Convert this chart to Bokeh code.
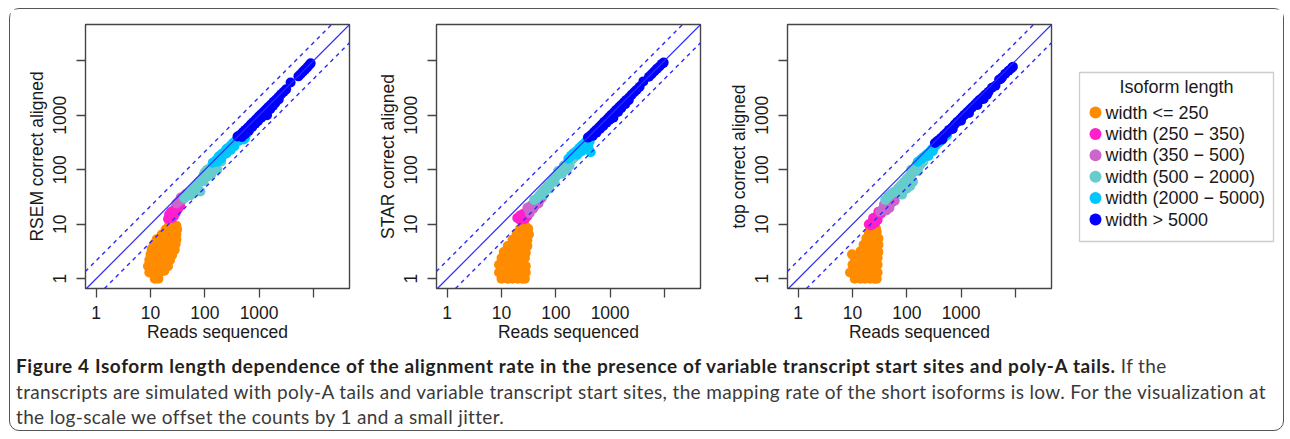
from bokeh.plotting import figure
from bokeh.models import (Range1d, FixedTicker, CustomJSTickFormatter, Slope, Div,
                          ColumnDataSource, BoxAnnotation)
from bokeh.layouts import row, column
from bokeh.embed import file_html
from bokeh.resources import INLINE
from bokeh.core.properties import value

# ---------------- data ----------------
CATEGORIES = ["width <= 250", "width (250 \u2212 350)", "width (350 \u2212 500)",
              "width (500 \u2212 2000)", "width (2000 \u2212 5000)", "width > 5000"]
COLORS = ["#FF8C00", "#FF1FCB", "#CC66CC", "#66CCCC", "#00C8FF", "#0000FF"]
LEGEND_TITLE = "Isoform length"
X_LABEL = "Reads sequenced"
Y_LABELS = ["RSEM correct aligned", "STAR correct aligned", "top correct aligned"]
TICKS = [1, 10, 100, 1000, 10000]
FOLD = 2.15  # dashed reference lines: y = x*FOLD and y = x/FOLD

# (reads sequenced, correct aligned) per isoform-length class
rsem_le250 = [(12, 1.0), (14, 1.0),
              (9.5, 1.3), (12, 1.3), (15, 1.3), (18, 1.4),
              (9, 1.7), (11, 1.8), (14, 1.7), (18, 1.8), (21, 1.7),
              (9.5, 2.2), (12, 2.3), (15, 2.2), (19, 2.3), (23, 2.2),
              (10, 2.8), (13, 2.9), (17, 2.8), (21, 2.9), (25, 2.7),
              (10.5, 3.5), (14, 3.6), (18, 3.4), (23, 3.5), (28, 3.4),
              (11.5, 4.3), (15, 4.4), (20, 4.2), (25, 4.4), (29, 4.3),
              (13, 5.3), (17, 5.4), (22, 5.2), (27, 5.4), (30, 5.2),
              (16, 6.5), (20, 6.6), (25, 6.4), (30, 6.5),
              (19, 8), (23, 8.1), (28, 7.9), (31, 8),
              (22, 9.5), (26, 9.8), (30, 9.4)]
rsem_250_350 = [(21, 12.5), (23, 13.5), (25, 13), (27, 14), (22, 15), (26, 16), (29, 16),
                (31, 18), (28, 19), (33, 20), (35, 22), (30, 21), (24, 17)]
rsem_350_500 = [(30, 24), (33, 26), (34, 27), (38, 28), (36, 31), (40, 30), (42, 33),
                (45, 36), (47, 34), (50, 38)]
rsem_500_2000 = [(42, 30), (48, 33), (52, 38), (56, 40), (60, 45), (65, 48), (70, 52), (75, 58),
                 (80, 62), (85, 60), (90, 70), (95, 80), (100, 90), (105, 75), (110, 100),
                 (120, 105), (130, 110), (140, 125), (150, 130), (160, 145), (175, 150),
                 (190, 170), (210, 180), (230, 200), (250, 220), (270, 250), (83, 40),
                 (120, 85), (170, 100), (140, 95), (60, 38), (200, 140), (70, 44), (95, 62),
                 (110, 75), (150, 105), (55, 34), (130, 80)]
rsem_2000_5000 = [(140, 135), (160, 150), (180, 175), (200, 190),
                  (220, 205), (250, 240), (280, 260), (300, 280), (330, 310), (360, 330),
                  (400, 370), (450, 400), (500, 430), (550, 380), (520, 360), (300, 230),
                  (250, 200), (600, 470), (420, 340), (350, 270), (200, 160), (170, 140)]
rsem_gt5000 = [(400, 410), (450, 440), (500, 490), (560, 540), (620, 600), (700, 680), (780, 750),
               (870, 840), (970, 940), (1080, 1040), (1200, 1150), (1330, 1280), (1480, 1420),
               (1650, 1580), (1850, 1770), (2050, 1960), (2300, 2200), (2550, 2450),
               (2850, 2720), (3150, 3000),
               (480, 400), (550, 450), (650, 520), (750, 610), (850, 700), (950, 780),
               (1100, 900), (1250, 1020), (1400, 1000), (1600, 1300), (1800, 1480),
               (2000, 1700), (2300, 1950),
               (3800, 4000), (5300, 5200), (5800, 5700), (6400, 6300), (7000, 6900),
               (7700, 7600), (8300, 8300), (8900, 9000)]

star_le250 = [(10, 1.0), (13, 1.0), (16, 1.0), (20, 1.0), (24, 1.0), (27, 1.0),
              (9, 1.3), (12, 1.3), (15, 1.3), (19, 1.3), (23, 1.3), (28, 1.3),
              (9, 1.8), (12, 1.8), (16, 1.8), (20, 1.8), (25, 1.8), (28, 1.7),
              (10, 2.4), (13, 2.5), (17, 2.4), (22, 2.4), (27, 2.4),
              (11, 3.1), (14, 3.2), (18, 3.1), (23, 3.2), (28, 3.0),
              (13, 4.0), (17, 4.1), (21, 4.0), (26, 4.0), (30, 4.0),
              (16, 5.2), (20, 5.2), (25, 5.3), (30, 5.1),
              (19, 6.6), (23, 6.6), (28, 6.7), (32, 6.5),
              (22, 8.3), (26, 8.5), (31, 8.3),
              (27, 9.6)]
star_250_350 = [(19.5, 13), (22, 12), (24, 13), (27, 12.5), (30, 14), (25, 15.5), (29, 17),
                (33, 18), (36, 20), (40, 21), (31, 15.5), (22, 14.5)]
star_350_500 = [(30, 20), (33, 16), (35, 22), (38, 19), (40, 25), (42, 23), (45, 26), (50, 28),
                (55, 30), (48, 24)]
star_500_2000 = [(40, 28), (45, 30), (50, 34), (55, 38), (60, 42), (65, 45), (70, 50), (78, 55),
                 (85, 62), (92, 68), (100, 75), (110, 82), (120, 90), (130, 98), (140, 108),
                 (150, 115), (165, 125), (180, 140), (200, 155), (220, 170), (240, 185),
                 (260, 200), (75, 45), (95, 60), (130, 85), (160, 100), (60, 35), (180, 120),
                 (110, 95), (140, 120), (200, 175)]
star_2000_5000 = [(170, 160), (190, 180), (210, 200), (240, 220), (270, 250),
                  (300, 280), (330, 300), (360, 330), (400, 370), (440, 400), (470, 430),
                  (300, 220), (350, 250), (400, 260), (440, 210), (380, 300), (250, 190),
                  (420, 330)]
star_gt5000 = [(390, 390), (440, 430), (500, 490), (560, 545), (630, 610), (700, 680), (780, 760),
               (870, 840), (960, 930), (1060, 1030), (1180, 1140), (1300, 1260), (1450, 1400),
               (1600, 1550), (1800, 1730), (2000, 1920), (2250, 2150), (2500, 2400),
               (2800, 2680), (3100, 2960), (3500, 3350),
               (480, 420), (560, 480), (650, 560), (750, 640), (860, 730), (980, 830),
               (1150, 900), (1400, 1150), (1600, 1350), (1900, 1600), (2200, 1900),
               (4100, 4200), (5200, 5100), (5800, 5700), (6500, 6400), (7300, 7200),
               (8100, 7900), (9000, 8800), (9700, 9300)]

top_le250 = [(11, 1.0), (14, 1.0), (17, 1.0), (21, 1.0), (25, 1.0), (28, 1.0),
             (9, 1.3), (12, 1.3), (16, 1.3), (20, 1.3), (24, 1.3), (29, 1.3),
             (10, 1.8), (13, 1.8), (17, 1.8), (21, 1.8), (26, 1.8), (29, 1.8),
             (11, 2.4), (15, 2.4), (19, 2.4), (24, 2.4), (29, 2.4),
             (9.8, 2.8),
             (14, 3.2), (18, 3.2), (22, 3.2), (27, 3.2), (30, 3.1),
             (16, 4.2), (20, 4.2), (25, 4.3), (30, 4.2),
             (18, 5.5), (22, 5.5), (27, 5.6), (30, 5.5),
             (20, 7.2), (24, 7.3), (28, 7.2),
             (23, 8.6), (27, 8.4)]
top_250_350 = [(20, 10), (22, 9.5), (23, 11), (26, 10.5), (29, 12), (24, 13), (27, 11.5),
               (28, 14), (31, 15), (34, 16), (30, 17)]
top_350_500 = [(32, 17), (36, 19), (38, 23), (40, 21), (42, 18), (45, 22), (48, 20), (50, 24),
               (55, 26), (60, 27)]
top_500_2000 = [(40, 28), (45, 32), (50, 35), (55, 38), (60, 40), (68, 45), (75, 50), (82, 55),
                (90, 60), (100, 68), (110, 75), (120, 80), (130, 90), (140, 95), (150, 105),
                (165, 115), (180, 125), (200, 140), (82, 35), (100, 45), (115, 50), (130, 60),
                (70, 38), (160, 95), (120, 100), (150, 125)]
top_2000_5000 = [(160, 140), (180, 155), (200, 170), (230, 190), (260, 210),
                 (290, 240), (320, 260), (350, 290), (380, 310), (420, 340), (450, 360),
                 (500, 400), (550, 430), (250, 180), (300, 220)]
top_gt5000 = [(330, 310), (370, 340), (420, 380), (480, 430), (540, 480), (600, 540), (680, 600),
              (760, 680), (850, 760), (950, 840), (1050, 930), (1150, 1020), (1300, 1150),
              (1450, 1280), (1600, 1400), (1800, 1580), (2000, 1750), (2200, 1930),
              (2500, 2150), (2800, 2400), (3200, 2700), (3700, 3200),
              (450, 360), (700, 560), (1000, 800), (1400, 1100), (2000, 1550), (2600, 2000),
              (3000, 2400), (4300, 3500),
              (5000, 4500), (5400, 4700), (5700, 5000), (6500, 5800), (7500, 6600),
              (8500, 7300), (9000, 7800)]

PANELS = [
    (Y_LABELS[0], [rsem_le250, rsem_250_350, rsem_350_500, rsem_500_2000, rsem_2000_5000, rsem_gt5000]),
    (Y_LABELS[1], [star_le250, star_250_350, star_350_500, star_500_2000, star_2000_5000, star_gt5000]),
    (Y_LABELS[2], [top_le250, top_250_350, top_350_500, top_500_2000, top_2000_5000, top_gt5000]),
]

CAPTION_BOLD = ("Figure 4 Isoform length dependence of the alignment rate in the presence of "
                "variable transcript start sites and poly-A tails.")
CAPTION_LINES = [" If the",
                 "transcripts are simulated with poly-A tails and variable transcript start sites, "
                 "the mapping rate of the short isoforms is low. For the visualization at",
                 "the log-scale we offset the counts by 1 and a small jitter."]

# ---------------- style ----------------
FONT = "Liberation Sans"
FS = "17.5px"
INK = "#1a1a1a"
BOX = "#444444"
LINE_BLUE = "#2b2bff"
X_LO, X_HI = 10 ** -0.197, 10 ** 4.665
Y_LO, Y_HI = 10 ** -0.180, 10 ** 4.668
MB_TOP, MB_BOTTOM = 15, 56
PANEL_H = 335


def make_panel(ylabel, series):
    p = figure(width=351, height=PANEL_H, x_axis_type="log", y_axis_type="log",
               x_range=Range1d(X_LO, X_HI), y_range=Range1d(Y_LO, Y_HI),
               output_backend="svg", toolbar_location=None,
               min_border_left=75, min_border_right=12, min_border_top=MB_TOP,
               min_border_bottom=MB_BOTTOM)
    p.grid.visible = False
    p.outline_line_color = BOX
    p.outline_line_width = 1.4
    for cat_pts, color in zip(series, COLORS):
        src = ColumnDataSource(dict(x=[a for a, b in cat_pts], y=[b for a, b in cat_pts]))
        p.scatter("x", "y", source=src, size=10, fill_color=color, line_color=None)
    p.add_layout(Slope(gradient=1, y_intercept=0, line_color=LINE_BLUE, line_width=1.2))
    for g in (FOLD, 1 / FOLD):
        p.add_layout(Slope(gradient=g, y_intercept=0, line_color=LINE_BLUE, line_width=1.4,
                           line_dash="4 4"))
    fmt = CustomJSTickFormatter(code="return tick >= 9999 ? '' : tick.toFixed(0);")
    for ax in (p.xaxis[0], p.yaxis[0]):
        ax.ticker = FixedTicker(ticks=TICKS, minor_ticks=[])
        ax.formatter = fmt
        ax.axis_line_color = None
        ax.major_tick_in = 0
        ax.major_tick_out = 9
        ax.major_tick_line_color = BOX
        ax.major_tick_line_width = 1.3
        ax.minor_tick_line_color = None
        ax.major_label_text_font = FONT
        ax.major_label_text_font_size = FS
        ax.major_label_text_color = INK
        ax.axis_label_text_font = FONT
        ax.axis_label_text_font_size = FS
        ax.axis_label_text_font_style = "normal"
        ax.axis_label_text_color = INK
    p.xaxis.axis_label = X_LABEL
    p.yaxis.axis_label = ylabel
    p.xaxis.major_label_standoff = 8
    p.xaxis.axis_label_standoff = 0
    p.yaxis.major_label_orientation = "vertical"
    p.yaxis.major_label_standoff = 10
    p.yaxis.axis_label_standoff = 4
    return p


panels = [make_panel(lbl, ser) for lbl, ser in PANELS]

# ---------------- legend panel (frame aligned with the plot frames) ----------------
LW = 220
FRAME_H = PANEL_H - MB_TOP - MB_BOTTOM
leg = figure(width=LW, height=PANEL_H, x_range=Range1d(0, LW), y_range=Range1d(FRAME_H, 0),
             output_backend="svg", toolbar_location=None, min_border_left=0, min_border_right=0,
             min_border_top=MB_TOP, min_border_bottom=MB_BOTTOM,
             x_axis_location=None, y_axis_location=None)
leg.grid.visible = False
leg.outline_line_color = None
box_l, box_r, box_t, box_b = 16, 210, 48, 217
leg.add_layout(BoxAnnotation(left=box_l, right=box_r, top=box_t, bottom=box_b,
                             fill_color=None, line_color="#555555", line_width=1.3))
leg.text(x=[(box_l + box_r) / 2], y=[box_t + 14], text=[LEGEND_TITLE],
         text_font=value(FONT), text_font_size="18px", text_color=INK,
         text_align="center", text_baseline="middle")
row_y = [box_t + 40 + 21.4 * i for i in range(len(CATEGORIES))]
leg.scatter(x=[box_l + 16] * len(CATEGORIES), y=row_y, size=12, fill_color=COLORS, line_color=None)
leg.text(x=[box_l + 26] * len(CATEGORIES), y=row_y, text=CATEGORIES,
         text_font=value(FONT), text_font_size="18px", text_color=INK,
         text_align="left", text_baseline="middle")

# ---------------- caption ----------------
cap_html = ('<div style="font-family: Lato, sans-serif; font-size: 19px; line-height: 25.5px; '
            'letter-spacing: 0.35px; color:#3a3a3a; padding: 9px 0 0 6px; white-space: nowrap;">'
            '<b style="color:#231f20; letter-spacing: 0.6px;">' + CAPTION_BOLD + '</b>'
            + CAPTION_LINES[0] + '<br>' + CAPTION_LINES[1] + '<br>' + CAPTION_LINES[2] + '</div>')
caption = Div(text=cap_html, width=1273, height=86, margin=0,
              styles={"overflow": "visible"})

layout = column(row(*panels, leg, spacing=0), caption, spacing=0,
                styles={"border": "1.5px solid #555555", "border-radius": "10px",
                        "margin-left": "9px", "margin-top": "8px"})

open("out.html", "w").write(file_html(layout, INLINE))
